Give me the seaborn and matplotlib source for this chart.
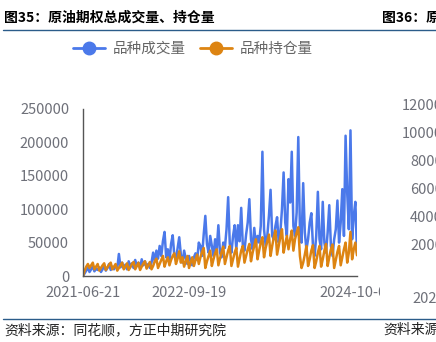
import numpy as np
import pandas as pd
import matplotlib
matplotlib.use("Agg")
import matplotlib.pyplot as plt
from matplotlib.lines import Line2D
from matplotlib.patches import Rectangle
import seaborn as sns

# ---- data (values in contracts, weekly points) ----
volume_k = [
    0, 4, 8, 12, 6, 10, 14, 7, 11, 9,
    13, 6, 10, 15, 8, 12, 18, 9, 14, 10,
    16, 11, 33, 13, 20, 12, 17, 10, 22, 14,
    19, 12, 24, 15, 20, 11, 25, 16, 22, 13,
    18, 12, 20, 35, 22, 38, 26, 45, 30, 52,
    66, 28, 40, 22, 48, 61, 30, 25, 42, 58,
    32, 20, 38, 26, 18, 30, 22, 16, 28, 34,
    24, 50, 45, 30, 62, 90, 48, 35, 60, 45,
    30, 55, 40, 76, 35, 28, 50, 42, 70, 118,
    48, 35, 60, 76, 40, 76, 52, 102, 45, 38,
    62, 80, 115, 55, 40, 72, 45, 60, 50, 75,
    186, 70, 45, 60, 90, 129, 60, 55, 75, 88,
    50, 65, 100, 155, 80, 60, 145, 110, 186, 75,
    60, 95, 208, 70, 50, 139, 65, 40, 55, 80,
    94, 45, 30, 60, 126, 55, 40, 111, 50, 35,
    65, 106, 45, 30, 55, 70, 113, 50, 80, 130,
    60, 210, 124, 70, 218, 55, 90, 111, 35,
]
open_interest_k = [
    0, 8, 14, 18, 12, 16, 20, 10, 14, 18,
    8, 12, 16, 19, 9, 13, 17, 20, 10, 14,
    18, 8, 12, 16, 20, 10, 14, 19, 9, 13,
    18, 21, 10, 15, 20, 9, 14, 19, 22, 11,
    16, 21, 10, 15, 22, 26, 12, 18, 24, 30,
    14, 22, 28, 16, 24, 30, 34, 18, 26, 37,
    20, 28, 14, 22, 30, 12, 20, 28, 15, 24,
    32, 18, 28, 36, 42, 12, 22, 30, 38, 15,
    25, 34, 40, 16, 26, 36, 44, 18, 28, 38,
    45, 15, 25, 35, 42, 14, 26, 38, 45, 20,
    30, 40, 48, 22, 35, 45, 55, 25, 38, 50,
    58, 28, 42, 52, 62, 30, 45, 58, 68, 32,
    45, 58, 70, 35, 48, 60, 40, 55, 68, 38,
    55, 65, 73, 30, 12, 20, 32, 45, 15, 25,
    38, 46, 12, 22, 35, 45, 14, 25, 38, 48,
    15, 28, 40, 47, 12, 24, 36, 45, 16, 28,
    40, 50, 20, 35, 66, 25, 40, 50, 31,
]
series_names = ["品种成交量", "品种持仓量"]
x_tick_pos = [0, 65, 130, 168]
x_tick_labels = ["2021-06-21", "2022-09-19", "", "2024-10-08"]
y_ticks = [0, 50000, 100000, 150000, 200000, 250000]

title_left = "图35：原油期权总成交量、持仓量"
title_right = "图36：原"
source_left = "资料来源：同花顺，方正中期研究院"
source_right = "资料来源"
right_y_labels = ["12000", "10000", "8000", "6000", "4000", "2000"]

# ---- build frame ----
n = len(volume_k)
df = pd.DataFrame({
    "idx": list(range(n)) * 2,
    "value": [v * 1000 for v in volume_k] + [v * 1000 for v in open_interest_k],
    "series": [series_names[0]] * n + [series_names[1]] * n,
})

sns.set_theme(style="white")
plt.rcParams["font.family"] = ["Noto Sans CJK SC", "DejaVu Sans"]

BLUE = "#4B79EA"
ORANGE = "#DD8412"
GREY = "#6E7079"
LINE_BLUE = "#2B5C8A"

W, H = 436, 342
fig = plt.figure(figsize=(W / 100, H / 100), dpi=100)
fig.patch.set_facecolor("white")

ax = fig.add_axes([83 / W, 66 / H, (357 - 83) / W, (276 - 109) / H])
sns.lineplot(data=df, x="idx", y="value", hue="series",
             palette=[BLUE, ORANGE], linewidth=1.8, ax=ax, legend=False)
ax.set_xlim(0, n - 1)
ax.set_ylim(0, 250000)
ax.set_xlabel("")
ax.set_ylabel("")
ax.set_yticks(y_ticks)
ax.set_yticklabels([str(v) for v in y_ticks])
ax.set_xticks(x_tick_pos)
ax.set_xticklabels(x_tick_labels)
for s in ["top", "right"]:
    ax.spines[s].set_visible(False)
for s in ["left", "bottom"]:
    ax.spines[s].set_color("#555555")
    ax.spines[s].set_linewidth(1.0)
ax.tick_params(axis="both", which="both", direction="out", length=4,
               width=1.0, color="#555555", labelcolor=GREY, labelsize=10.5)
ax.tick_params(axis="y", pad=6)
ax.tick_params(axis="x", pad=3)
ax.set_facecolor("white")
ax.grid(False)

# legend
handles = [
    Line2D([0], [0], color=BLUE, lw=2, marker="o", markersize=9),
    Line2D([0], [0], color=ORANGE, lw=2, marker="o", markersize=9),
]
fig.legend(handles, series_names, loc="center", bbox_to_anchor=(193 / W, 1 - 49 / H),
           ncol=2, frameon=False, handlelength=2.2, columnspacing=1.0,
           handletextpad=0.5, prop={"size": 10.5}, labelcolor="#666666")

# mask right panel area (clips the last tick label like the reference)
fig.patches.append(Rectangle((380 / W, 0), (W - 380) / W, 1, transform=fig.transFigure,
                             facecolor="white", edgecolor="none", zorder=2))

# titles & rules
fig.text(4 / W, 1 - 18 / H, title_left, fontsize=10, fontweight="bold",
         color="black", va="center", ha="left", zorder=5)
fig.text(382 / W, 1 - 18 / H, title_right, fontsize=10, fontweight="bold",
         color="black", va="center", ha="left", zorder=5)
fig.add_artist(Line2D([3 / W, 1], [1 - 29.5 / H, 1 - 29.5 / H], color=LINE_BLUE,
                      lw=1.0, transform=fig.transFigure, zorder=5))
fig.add_artist(Line2D([3 / W, 1], [1 - 318.5 / H, 1 - 318.5 / H], color=LINE_BLUE,
                      lw=1.0, transform=fig.transFigure, zorder=5))
fig.text(4 / W, 1 - 330 / H, source_left, fontsize=10, style="italic",
         color="#222222", va="center", ha="left", zorder=5)
fig.text(383 / W, 1 - 330 / H, source_right, fontsize=10, style="italic",
         color="#222222", va="center", ha="left", zorder=5)

# partial neighbouring panel labels
for i, lab in enumerate(right_y_labels):
    fig.text(443 / W, 1 - (106 + 28 * i) / H, lab, fontsize=10.5, color=GREY,
             va="center", ha="right", zorder=5)
fig.text(412 / W, 1 - 299 / H, "2021-06-21", fontsize=10.5, color=GREY,
         va="center", ha="left", zorder=5)

fig.savefig("out.png", dpi=100, facecolor="white")
